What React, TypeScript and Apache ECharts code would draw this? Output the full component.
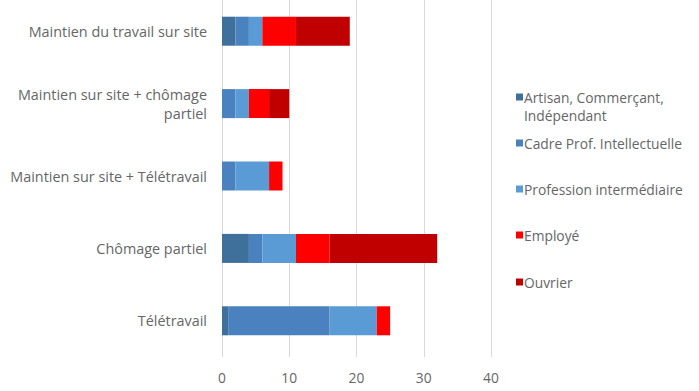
import React, { useEffect, useRef } from "react";
import * as echarts from "echarts";

const categories = [
  "Télétravail",
  "Chômage partiel",
  "Maintien sur site + Télétravail",
  "Maintien sur site + chômage\npartiel",
  "Maintien du travail sur site",
];
const seriesNames = [
  "Artisan, Commerçant,\nIndépendant",
  "Cadre Prof. Intellectuelle",
  "Profession intermédiaire",
  "Employé",
  "Ouvrier",
];
const artisan = [1, 4, 0, 0, 2];
const cadre = [15, 2, 2, 2, 2];
const professionInter = [7, 5, 5, 2, 2];
const employe = [2, 5, 2, 3, 5];
const ouvrier = [0, 16, 0, 3, 8];
const xTicks = [0, 10, 20, 30, 40];

const colors = ["#3f6f9b", "#4a82c0", "#5b9bd5", "#ff0000", "#c00000"];
const FONT = "Open Sans";
const SHIFT = 5; // chart canvas starts 5px above the page (top of plot is cropped)

export default function App() {
  const ref = useRef<HTMLDivElement>(null);
  useEffect(() => {
    if (!ref.current) return;
    const chart = echarts.init(ref.current, null, { renderer: "svg" });
    const values = [artisan, cadre, professionInter, employe, ouvrier];
    const legendY = [97, 143, 189, 235, 282];
    const legendGraphics: any[] = [];
    seriesNames.forEach((name, i) => {
      legendGraphics.push({
        type: "rect",
        shape: { x: 516, y: legendY[i] + SHIFT - 3.5, width: 7, height: 7 },
        style: { fill: colors[i] },
      });
      legendGraphics.push({
        type: "text",
        x: 524,
        y: legendY[i] + SHIFT - 9,
        style: {
          text: name,
          fill: "#666666",
          font: `13.8px "${FONT}"`,
          lineHeight: 18,
          textVerticalAlign: "top",
        },
      });
    });
    chart.setOption({
      animation: false,
      grid: { left: 222, right: 208, top: 0, bottom: 34, containLabel: false },
      xAxis: {
        type: "value",
        min: 0,
        max: 40,
        interval: 10,
        axisLine: { show: false },
        axisTick: { show: false },
        splitLine: { show: true, lineStyle: { color: "#d9d9d9", width: 1 } },
        axisLabel: {
          color: "#666666",
          fontFamily: FONT,
          fontSize: 13.8,
          margin: 13,
          formatter: (v: number) => (xTicks.includes(v) ? String(v) : ""),
        },
      },
      yAxis: {
        type: "category",
        data: categories,
        axisLine: { show: false },
        axisTick: { show: false },
        axisLabel: {
          color: "#666666",
          fontFamily: FONT,
          fontSize: 14.4,
          margin: 15,
          lineHeight: 19,
          align: "right",
        },
      },
      series: seriesNames.map((name, i) => ({
        name,
        type: "bar",
        stack: "total",
        barWidth: 29,
        itemStyle: { color: colors[i] },
        data: values[i],
      })),
      graphic: legendGraphics,
    });
    return () => chart.dispose();
  }, []);
  return (
    <div style={{ position: "absolute", left: 0, top: 0, width: 699, height: 391, overflow: "hidden", background: "#fff" }}>
      <div
        ref={ref}
        style={{ position: "absolute", left: 0, top: -SHIFT, width: 699, height: 391 + SHIFT }}
      />
    </div>
  );
}
